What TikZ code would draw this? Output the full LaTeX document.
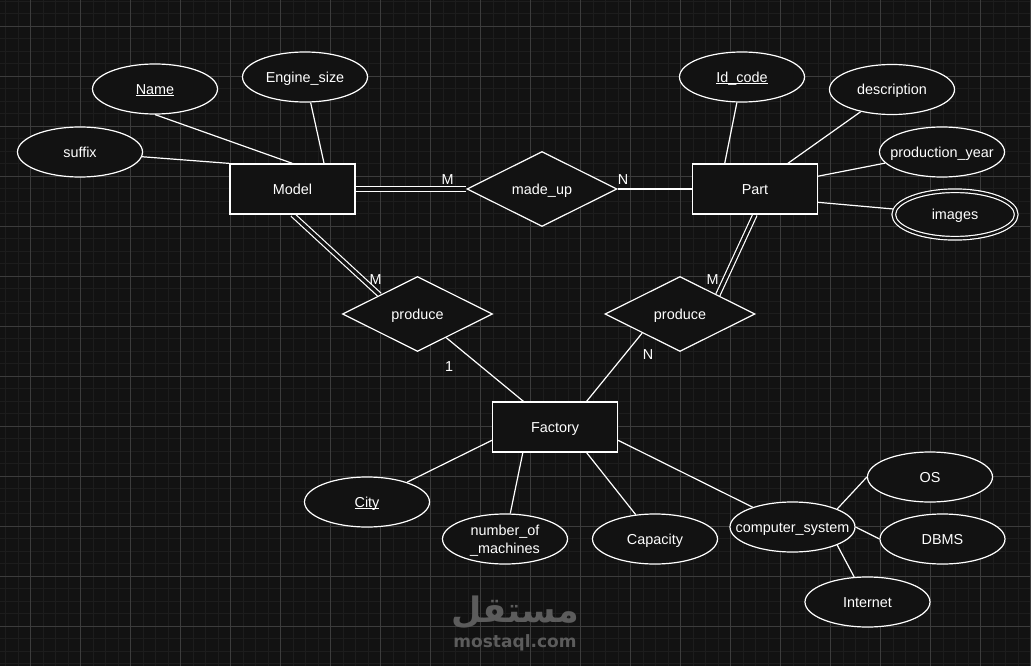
\documentclass[tikz,border=0pt]{standalone}
\usepackage{fontspec}
\setmainfont{Liberation Sans}
\newfontfamily\arabicfont[Script=Arabic]{DejaVu Sans}
\newfontfamily\wmfont{DejaVu Sans}
\TeXXeTstate=1
\usetikzlibrary{shapes.geometric,calc}
\definecolor{bg}{HTML}{121212}
\definecolor{gridminor}{HTML}{1D1D1D}
\definecolor{gridmajor}{HTML}{3C3C3C}
\definecolor{wm}{HTML}{5C5C5C}
\newcommand\uln[1]{\underline{\smash{#1}}}
\newcommand\nobox[1]{\makebox[0pt]{#1}}
\pgfdeclarelayer{background}
\pgfsetlayers{background,main}
\tikzset{
  base/.style={draw=white, line width=1.2pt, fill=bg, text=white, inner sep=0pt,
    font=\fontsize{14.4}{18}\selectfont},
  ctext/.style={text height=10.3pt, text depth=0pt},
  entity/.style={base, ctext, rectangle, minimum width=125pt, minimum height=50pt},
  attrshape/.style={base, ellipse, minimum width=125pt, minimum height=50pt},
  attr/.style={attrshape, ctext},
  multiattr/.style={base, ctext, ellipse, minimum width=122.5pt, minimum height=47.5pt,
    double=bg, double distance=2.4pt},
  rel/.style={base, ctext, diamond, aspect=2, minimum width=150pt, minimum height=75pt},
  card/.style={ctext, text=white, inner sep=0pt, font=\fontsize{14.4}{18}\selectfont},
  link/.style={draw=white, line width=1.2pt},
  dlink/.style={draw=white, line width=1.2pt, double=bg, double distance=3.2pt},
}
\begin{document}
\begin{tikzpicture}[x=1pt,y=-1pt]
\useasboundingbox (0,0) rectangle (1031,666);

% entities
\node[entity] (model) at (292.5,189) {Model};
\node[entity] (part) at (755,189) {Part};
\node[entity] (factory) at (555,427) {Factory};
% relationships
\node[rel] (madeup) at (542,189) {made\_up};
\node[rel] (pl) at (417.5,314) {produce};
\node[rel] (pr) at (680,314) {produce};
% attributes
\node[attr] (name) at (155,89) {\uln{Name}};
\node[attr] (engine) at (305,77) {\nobox{Engine\_size}};
\node[attr] (suffix) at (80,152) {suffix};
\node[attr] (idcode) at (742,77) {\uln{Id\_code}};
\node[attr] (desc) at (892,89.5) {\nobox{description}};
\node[attr] (pyear) at (942,152) {\nobox{production\_year}};
\node[multiattr] (images) at (955,214.5) {images};
\node[attr] (city) at (367,502) {\uln{City}};
\node[attrshape, align=center, text height=28.3pt, text depth=0pt] (nom) at (505,539) {number\_of\\\_machines};
\node[attr] (cap) at (655,539) {Capacity};
\node[attr] (cs) at (792.5,527) {\nobox{computer\_system}};
\node[attr] (os) at (930,477) {OS};
\node[attr] (dbms) at (942.5,539) {DBMS};
\node[attr] (internet) at (867.5,602) {Internet};
% cardinalities
\node[card] (c1) at (447.5,179) {M};
\node[card] (c2) at (623,179) {N};
\node[card] (c3) at (375.5,279) {M};
\node[card] (c4) at (712.5,279) {M};
\node[card] (c5) at (449,366) {1};
\node[card] (c6) at (648,354) {N};
% watermark
\node[text=wm, inner sep=0pt, font=\arabicfont\bfseries\fontsize{35}{35}\selectfont] (wmar) at (515,612) {\beginR مستقل\endR};
\node[text=wm, inner sep=0pt, font=\wmfont\bfseries\fontsize{17}{17}\selectfont] (wmen) at (515,643) {mostaql.com};

\begin{pgfonlayer}{background}
\fill[bg] (0,0) rectangle (1031,666);
\foreach \i in {0,...,82} {\draw[gridminor, line width=0.8pt] ({5.5+12.5*\i},0) -- ({5.5+12.5*\i},666);}
\foreach \i in {0,...,53} {\draw[gridminor, line width=0.8pt] (0,{1+12.5*\i}) -- (1031,{1+12.5*\i});}
\foreach \i in {0,...,20} {\draw[gridmajor, line width=0.8pt] ({30.5+50*\i},0) -- ({30.5+50*\i},666);}
\foreach \i in {0,...,13} {\draw[gridmajor, line width=0.8pt] (0,{26+50*\i}) -- (1031,{26+50*\i});}

\draw[link] (name.south) -- (model.north);
\draw[link] ($(model.north west)!0.75!(model.north east)$) -- (engine);
\draw[link] (model.north west) -- (suffix);
\draw[dlink] (model.east) -- (madeup.west);
\draw[link] (madeup.east) -- (part.west);
\draw[dlink] (model.south) -- (pl.north west);
\draw[dlink] (part.south) -- (pr.north east);
\draw[link] ($(factory.north west)!0.25!(factory.north east)$) -- (pl);
\draw[link] ($(factory.north west)!0.75!(factory.north east)$) -- (pr.south west);
\draw[link] ($(factory.north west)!0.76!(factory.south west)$) -- (city);
\draw[link] ($(factory.south west)!0.245!(factory.south east)$) -- (nom);
\draw[link] ($(factory.south west)!0.75!(factory.south east)$) -- (cap);
\draw[link] ($(factory.north east)!0.76!(factory.south east)$) -- (cs);
\draw[link] (cs.22) -- (os.west);
\draw[link] (cs.east) -- (dbms.west);
\draw[link] (cs.-22) -- (internet);
\draw[link] ($(part.north west)!0.26!(part.north east)$) -- (idcode);
\draw[link] ($(part.north west)!0.76!(part.north east)$) -- (desc);
\draw[link] ($(part.north east)!0.25!(part.south east)$) -- (pyear);
\draw[link] ($(part.north east)!0.76!(part.south east)$) -- (images);
\end{pgfonlayer}
\end{tikzpicture}
\end{document}
